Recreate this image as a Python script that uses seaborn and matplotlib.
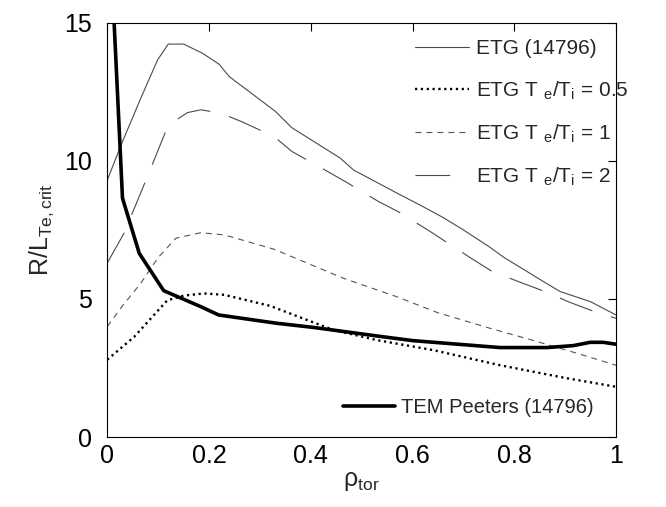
import numpy as np
import pandas as pd
import matplotlib
matplotlib.use("Agg")
import matplotlib.pyplot as plt
import seaborn as sns

# ---- data ----
etg_x = [0, 0.03, 0.066, 0.099, 0.12, 0.15, 0.187, 0.22, 0.24, 0.33, 0.363, 0.458, 0.484,
         0.576, 0.62, 0.66, 0.70, 0.75, 0.78, 0.86, 0.89, 0.95, 1.0]
etg_y = [9.3, 10.7, 12.27, 13.66, 14.23, 14.23, 13.9, 13.5, 13.05, 11.8, 11.2, 10.1, 9.67,
         8.77, 8.35, 7.95, 7.5, 6.9, 6.5, 5.6, 5.27, 4.9, 4.42]

etg05_x = [0, 0.053, 0.118, 0.15, 0.19, 0.23, 0.32, 0.444, 0.53, 0.64, 0.772, 0.903, 1.0]
etg05_y = [2.8, 3.63, 4.95, 5.12, 5.2, 5.15, 4.75, 3.88, 3.51, 3.15, 2.6, 2.13, 1.82]

etg1_x = [0, 0.03, 0.066, 0.1, 0.135, 0.184, 0.23, 0.328, 0.464, 0.569, 0.65, 0.75, 0.837, 0.92, 1.0]
etg1_y = [4.0, 4.75, 5.57, 6.5, 7.2, 7.4, 7.32, 6.8, 5.75, 5.08, 4.5, 3.95, 3.5, 3.05, 2.6]

etg2_x = [0, 0.033, 0.079, 0.12, 0.158, 0.184, 0.223, 0.263, 0.328, 0.363, 0.428, 0.468,
          0.533, 0.572, 0.635, 0.713, 0.756, 0.808, 0.87, 0.906, 0.965, 1.0]
etg2_y = [6.3, 7.38, 9.43, 11.3, 11.75, 11.85, 11.73, 11.43, 10.88, 10.34, 9.67, 9.25,
          8.53, 8.16, 7.44, 6.5, 6.0, 5.63, 5.2, 4.9, 4.49, 4.3]

tem_x = [0.012, 0.03, 0.063, 0.111, 0.184, 0.219, 0.333, 0.405, 0.53, 0.601, 0.772, 0.864,
         0.916, 0.949, 0.975, 1.0]
tem_y = [15.6, 8.65, 6.65, 5.3, 4.72, 4.42, 4.12, 3.97, 3.66, 3.49, 3.24, 3.24,
         3.31, 3.43, 3.43, 3.36]

labels = ["ETG (14796)",
          r"ETG T $_\mathregular{e}$/T$_\mathregular{i}$ = 0.5",
          r"ETG T $_\mathregular{e}$/T$_\mathregular{i}$ = 1",
          r"ETG T $_\mathregular{e}$/T$_\mathregular{i}$ = 2",
          "TEM Peeters (14796)"]

xticks = [0, 0.2, 0.4, 0.6, 0.8, 1.0]
xticklabels = ["0", "0.2", "0.4", "0.6", "0.8", "1"]
yticks = [0, 5, 10, 15]

# ---- style ----
sns.set_theme(style="white")
plt.rcParams["font.family"] = ["Liberation Sans", "DejaVu Sans"]
plt.rcParams["mathtext.fontset"] = "custom"
plt.rcParams["mathtext.rm"] = "Liberation Sans"
plt.rcParams["mathtext.it"] = "Liberation Sans"
plt.rcParams["lines.scale_dashes"] = False

fig = plt.figure(figsize=(6.66, 5.07), dpi=100)
ax = fig.add_axes([0.161, 0.138, 0.764, 0.817])

def draw(x, y, label, color, lw, ls):
    df = pd.DataFrame({"x": x, "y": y})
    sns.lineplot(data=df, x="x", y="y", ax=ax, color=color, linewidth=lw,
                 linestyle=ls, label=label, sort=False, estimator=None)

draw(etg_x, etg_y, labels[0], "#4a4a4a", 0.8, "-")
draw(etg05_x, etg05_y, labels[1], "black", 1.7, (0, (1.6, 2.6)))
draw(etg1_x, etg1_y, labels[2], "#555555", 0.8, (0, (4.3, 3.6)))
draw(etg2_x, etg2_y, labels[3], "#4a4a4a", 0.8, (0, (25, 14)))
draw(tem_x, tem_y, labels[4], "black", 2.6, "-")

ax.set_xlim(0, 1)
ax.set_ylim(0, 15)
ax.set_xticks(xticks)
ax.set_xticklabels(xticklabels)
ax.set_yticks(yticks)
ax.tick_params(axis="both", direction="in", length=6, width=0.8, labelsize=18,
               top=True, right=True, colors="black")
ax.tick_params(axis="x", pad=5)
ax.tick_params(axis="y", pad=11)
for s in ax.spines.values():
    s.set_color("black")
    s.set_linewidth(0.8)

ax.set_xlabel(r"$\mathregular{\rho_{tor}}$", fontsize=18, labelpad=1)
ax.set_ylabel(r"R/L$_\mathregular{Te,crit}$", fontsize=18, labelpad=6)

handles, labs = ax.get_legend_handles_labels()
leg1 = ax.legend(handles[:4], labs[:4], loc="upper right", frameon=False, fontsize=15,
                 handlelength=2.6, handletextpad=0.35, labelspacing=1.0,
                 bbox_to_anchor=(1.05, 0.99), borderaxespad=0.2)
ax.add_artist(leg1)
ax.legend(handles[4:], labs[4:], loc="lower right", frameon=False, fontsize=14.5,
          handlelength=2.6, handletextpad=0.3, bbox_to_anchor=(0.98, 0.018),
          borderaxespad=0.2)

fig.savefig("out.png", dpi=100)
